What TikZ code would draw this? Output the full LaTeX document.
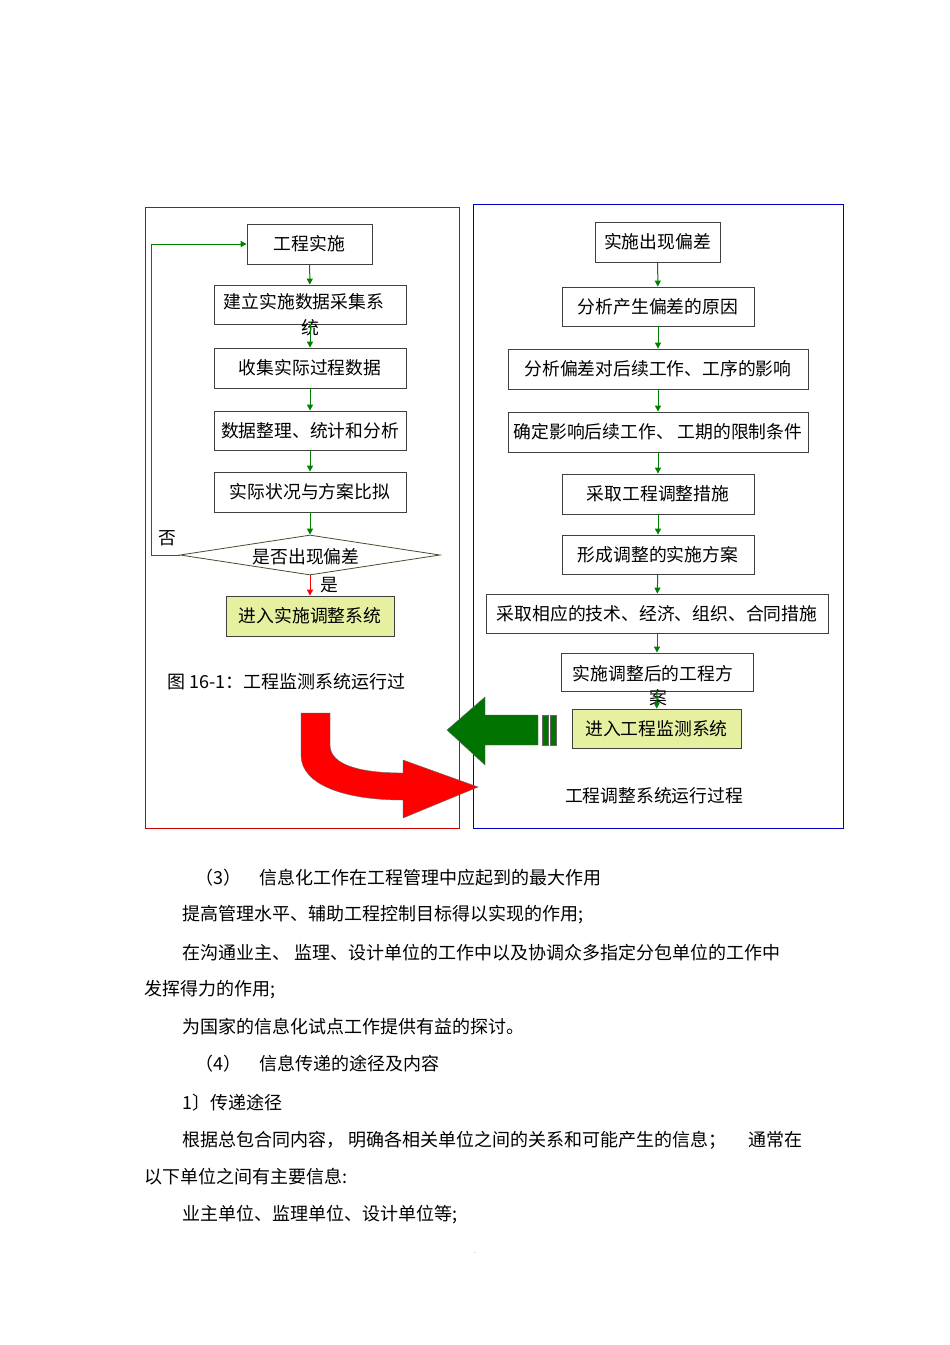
\documentclass[tikz,border=0pt]{standalone}
\usepackage{fontspec}
\setmainfont{Noto Sans CJK SC}
\usetikzlibrary{arrows.meta,shapes.geometric}
\begin{document}
\begin{tikzpicture}[x=1pt,y=-1pt,
  fs/.style={font=\fontsize{17.8}{19}\selectfont},
  bx/.style={draw=black!75,line width=0.8pt,fill=white,inner sep=0pt,fs},
  yb/.style={bx,fill=yellowgreen},
  ga/.style={draw=green!50!black,line width=1pt,-{Triangle[length=6pt,width=6pt]}},
  tx/.style={font=\fontsize{18}{20}\selectfont,anchor=west,inner sep=0pt}]
\definecolor{yellowgreen}{RGB}{230,240,160}
\useasboundingbox (0,0) rectangle (950,1345);
\fill[white] (0,0) rectangle (950,1345);
% frames
\draw[red!80!black,line width=0.8pt] (145,207) rectangle (459,828);
\draw[blue!75!black,line width=0.8pt] (473,204) rectangle (843,828);
% left column
\node[bx,minimum width=125pt,minimum height=40pt] (l1) at (309.5,244) {工程实施};
\node[bx,minimum width=192pt,minimum height=39pt] (l2) at (310,304.5) {};
\node[fs] (l2t) at (304,302) {建立实施数据采集系};
\node[fs] (l2u) at (310,328) {统};
\node[bx,minimum width=192pt,minimum height=40pt] (l3) at (310,368) {收集实际过程数据};
\node[bx,minimum width=192pt,minimum height=39pt] (l4) at (310,430.5) {数据整理、统计和分析};
\node[bx,minimum width=192pt,minimum height=40pt] (l5) at (310,492) {实际状况与方案比拟};
\node[diamond,draw=black!60!olive,line width=0.8pt,aspect=6.5,minimum width=260pt,minimum height=40pt,inner sep=0pt,fs] (d) at (310,555) {};
\node[fs] (dt) at (306,557) {是否出现偏差};
\node[yb,minimum width=168pt,minimum height=40pt] (l6) at (310,616) {进入实施调整系统};
\draw[ga] (l1) -- (l2);
\draw[ga] (l2) -- (l3);
\draw[ga] (l3) -- (l4);
\draw[ga] (l4) -- (l5);
\draw[ga] (l5) -- (d);
\draw[draw=red,line width=1pt,-{Triangle[length=6pt,width=6pt]}] (d) -- (l6);
\coordinate (fb) at (151,555);
\draw[ga] (d.west) -- (fb) |- (l1.west);
\node[fs] (yes) at (329,585) {是};
\node[fs] (no) at (167,538) {否};
\node[tx] (cap1) at (167,682) {图 16-1：工程监测系统运行过};
% right column
\node[bx,minimum width=125pt,minimum height=40pt] (r1) at (657.5,242) {实施出现偏差};
\node[bx,minimum width=192pt,minimum height=39pt] (r2) at (658,306.5) {分析产生偏差的原因};
\node[bx,minimum width=300pt,minimum height=40pt] (r3) at (658,369) {分析偏差对后续工作、工序的影响};
\node[bx,minimum width=300pt,minimum height=40pt] (r4) at (658,432) {确定影响后续工作、 工期的限制条件};
\node[bx,minimum width=192pt,minimum height=40pt] (r5) at (658,494) {采取工程调整措施};
\node[bx,minimum width=192pt,minimum height=39pt] (r6) at (658,554.5) {形成调整的实施方案};
\node[bx,minimum width=342pt,minimum height=39pt] (r7) at (657,613.5) {采取相应的技术、经济、组织、合同措施};
\node[bx,minimum width=192pt,minimum height=38pt] (r8) at (657,672) {};
\node[fs] (r8t) at (653,674) {实施调整后的工程方};
\node[yb,minimum width=169pt,minimum height=39pt] (r9) at (656.5,728.5) {进入工程监测系统};
\node[fs] (r8u) at (658,698) {案};
\draw[ga] (r1) -- (r2);
\draw[ga] (r2) -- (r3);
\draw[ga] (r3) -- (r4);
\draw[ga] (r4) -- (r5);
\draw[ga] (r5) -- (r6);
\draw[ga] (r6) -- (r7);
\draw[ga] (r7) -- (r8);
\draw[ga] (r8) -- (r9);
\node[fs] (cap2) at (654,796) {工程调整系统运行过程};
% big green arrow
\fill[green!45!black,draw=black!60,line width=0.4pt] (447,730) -- (485,697) -- (485,715) -- (538,715) -- (538,745) -- (485,745) -- (485,765) -- cycle;
\fill[green!45!black,draw=black!60,line width=0.4pt] (542,715) rectangle (548,745);
\fill[green!45!black,draw=black!60,line width=0.4pt] (550,715) rectangle (556,745);
% big red arrow
\fill[red,draw=black!60,line width=0.4pt] (301,713) -- (330,713) -- (330,745) .. controls (330,765) and (360,773) .. (403,773) -- (403,760) -- (478,787) -- (403,818) -- (403,800) .. controls (345,800) and (301,785) .. (301,755) -- cycle;
% body text
\node[tx] (t1) at (195,878) {（3）　信息化工作在工程管理中应起到的最大作用};
\node[tx] (t2) at (182,915) {提高管理水平、辅助工程控制目标得以实现的作用;};
\node[tx] (t3) at (182,953) {在沟通业主、 监理、设计单位的工作中以及协调众多指定分包单位的工作中};
\node[tx] (t4) at (144,990) {发挥得力的作用;};
\node[tx] (t5) at (182,1027) {为国家的信息化试点工作提供有益的探讨。};
\node[tx] (t6) at (195,1064) {（4）　信息传递的途径及内容};
\node[tx] (t7) at (182,1103) {1〕传递途径};
\node[tx] (t8) at (182,1140) {根据总包合同内容， 明确各相关单位之间的关系和可能产生的信息；　 通常在};
\node[tx] (t9) at (144,1177) {以下单位之间有主要信息:};
\node[tx] (t10) at (182,1215) {业主单位、监理单位、设计单位等;};
\node[font=\tiny] (dot) at (475,1253) {.};
\end{tikzpicture}
\end{document}
